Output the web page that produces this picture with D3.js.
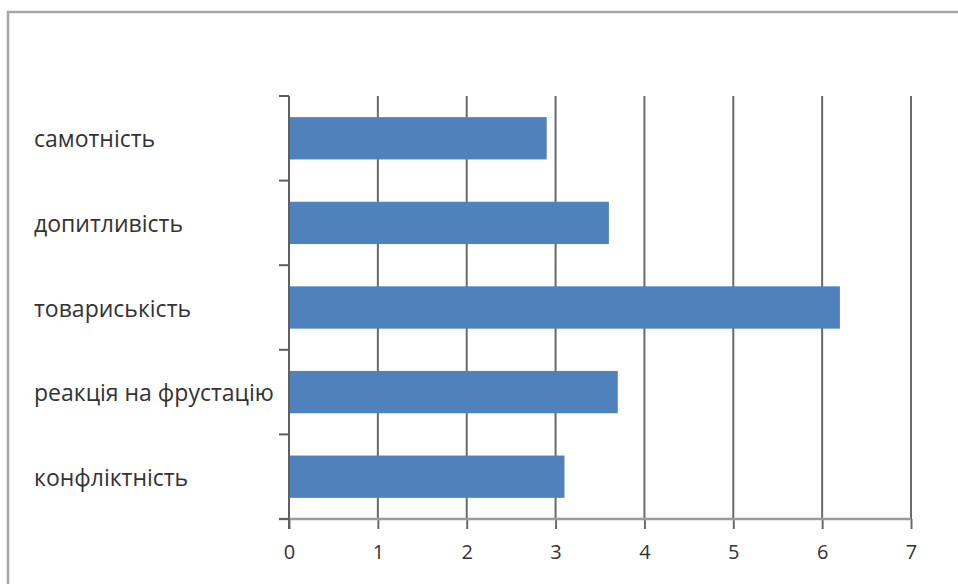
<!DOCTYPE html>
<html><head><meta charset="utf-8">
<script src="https://cdn.jsdelivr.net/npm/d3@7"></script>
<style>body{margin:0;background:#fff}svg{display:block}</style>
</head><body>
<svg id="c" width="958" height="584"></svg>
<script>
const categories = ["самотність","допитливість","товариськість","реакція на фрустацію","конфліктність"];
const values = [2.9, 3.6, 6.2, 3.7, 3.1];
const xTicks = [0,1,2,3,4,5,6,7];

const svg = d3.select("#c");
const pL = 289, pR = 911, pT = 96, pB = 519;
const x = d3.scaleLinear().domain([0,7]).range([pL,pR]);
const y = d3.scaleBand().domain(categories).range([pT,pB]).paddingInner(0.5).paddingOuter(0.25);
const yb = d3.scaleBand().domain(categories).range([pT,pB]);

// outer frame
svg.append("rect").attr("x",8).attr("y",12).attr("width",1000).attr("height",1000)
  .attr("fill","#fff").attr("stroke","#a6a6a6").attr("stroke-width",2.5);

// gridlines
svg.append("g").selectAll("line").data(xTicks.slice(1)).join("line")
  .attr("x1",d=>x(d)).attr("x2",d=>x(d)).attr("y1",pT).attr("y2",pB)
  .attr("stroke","#6a6a6a").attr("stroke-width",2);

// bars
svg.append("g").selectAll("rect").data(categories).join("rect")
  .attr("x",x(0)).attr("y",(d)=>y(d)).attr("height",y.bandwidth())
  .attr("width",(d,i)=>x(values[i])-x(0)).attr("fill","#4f81bd");

// x axis
const xa = svg.append("g").attr("transform",`translate(0,${pB})`)
  .call(d3.axisBottom(x).tickValues(xTicks).tickFormat(d3.format("d")).tickSize(10).tickPadding(16));
xa.select(".domain").remove();
xa.selectAll(".tick line").attr("stroke","#6a6a6a").attr("stroke-width",2);
xa.selectAll(".tick text").attr("font-family","Open Sans, sans-serif").attr("font-size",20).attr("fill","#333");
svg.append("line").attr("x1",pL-10).attr("x2",pR).attr("y1",pB).attr("y2",pB)
  .attr("stroke","#9a9a9a").attr("stroke-width",2.5);

// y axis
svg.append("line").attr("x1",pL).attr("x2",pL).attr("y1",pT).attr("y2",pB+10)
  .attr("stroke","#5f5f5f").attr("stroke-width",2);
const yTickPos = categories.map(c=>yb(c)).concat([pB]);
svg.append("g").selectAll("line").data(yTickPos).join("line")
  .attr("x1",pL-10).attr("x2",pL).attr("y1",d=>d).attr("y2",d=>d)
  .attr("stroke","#5f5f5f").attr("stroke-width",2);

// category labels
svg.append("g").selectAll("text").data(categories).join("text")
  .attr("x",34).attr("y",d=>yb(d)+yb.bandwidth()/2+1).attr("dy","0.35em")
  .attr("font-family","Open Sans, sans-serif").attr("font-size",23).attr("fill","#333")
  .text(d=>d);
</script>
</body></html>
